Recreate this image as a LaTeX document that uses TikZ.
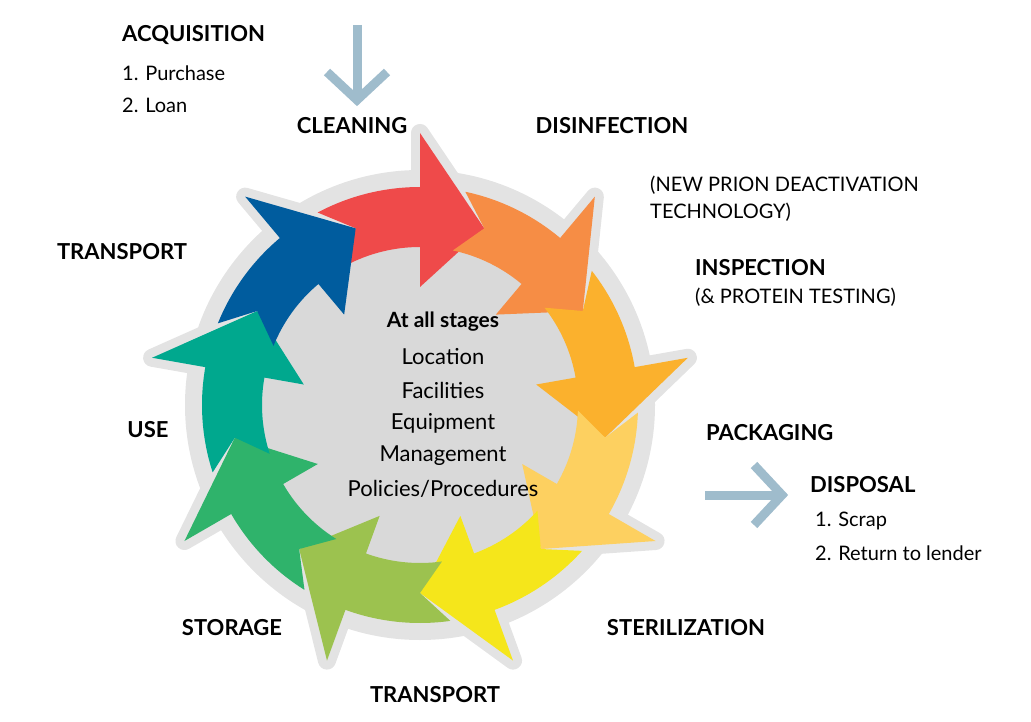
\documentclass[tikz,border=0pt]{standalone}
\usepackage{fontspec}
\setmainfont{Lato}
\begin{document}
\begin{tikzpicture}[x=1pt,y=1pt,
  lab/.style={font=\bfseries\fontsize{22}{26}\selectfont,inner sep=0pt},
  sub/.style={font=\fontsize{20}{24}\selectfont,inner sep=0pt,anchor=west},
  ctr/.style={font=\fontsize{22}{26}\selectfont,inner sep=0pt},
  bigarrow/.style={draw=arrowblue,line width=9pt}]
\definecolor{arrowblue}{HTML}{9FBCCC}
\useasboundingbox (0,0) rectangle (1031,-722);
\newcommand\arrpath[1]{(#1+48:218) arc[start angle=#1+48,end angle=#1+20,radius=218] -- (#1+20:272) -- (#1:188) -- (#1+20:118) -- (#1+20:158) arc[start angle=#1+20,end angle=#1+48,radius=158] -- (#1+40:188) -- cycle}
\begin{scope}[shift={(420,-405)}]
\fill[gray!22] (0,0) circle (235);
\foreach \t in {70,30,-10,-50,-90,-130,-170,150,110}
  \path[draw=gray!22,line width=18pt,line join=round] \arrpath{\t};
\fill[gray!30] (0,0) circle (160);
\foreach \t/\c in {70/EF4A4A,30/F68D45,-10/FBB12D,-50/FDD060,-90/F5E61B,-130/9CC24F,-170/2FB36B,150/00A88E,110/005C9E}
  {\definecolor{cc}{HTML}{\c}\path[fill=cc] \arrpath{\t};}
\end{scope}
% acquisition arrow
\coordinate (a1) at (357,-25); \coordinate (a2) at (357,-100);
\draw[bigarrow] (a1) -- (a2);
\draw[bigarrow,line join=miter] (327,-72) -- (a2) -- (387,-72);
\coordinate (d1) at (705,-495); \coordinate (d2) at (782,-495);
\draw[bigarrow] (d1) -- (d2);
\draw[bigarrow,line join=miter] (754,-465) -- (d2) -- (754,-525);
% labels
\node[lab,anchor=west] (acq) at (122,-35) {ACQUISITION};
\node[sub] (p1) at (122,-73) {1. Purchase};
\node[sub] (p2) at (122,-105) {2. Loan};
\node[lab] (clean) at (352,-126) {CLEANING};
\node[lab] (dis) at (612,-126) {DISINFECTION};
\node[sub] (np1) at (650,-185) {(NEW PRION DEACTIVATION};
\node[sub] (np2) at (650,-212) {TECHNOLOGY)};
\node[lab,anchor=west] (ins) at (695,-268) {INSPECTION};
\node[sub] (pt) at (695,-297) {(\& PROTEIN TESTING)};
\node[lab,anchor=west] (pack) at (706,-433) {PACKAGING};
\node[lab,anchor=west] (disp) at (810,-485) {DISPOSAL};
\node[sub] (s1) at (815,-521) {1. Scrap};
\node[sub] (s2) at (815,-553) {2. Return to lender};
\node[lab] (ster) at (686,-628) {STERILIZATION};
\node[lab] (tr2) at (435,-695) {TRANSPORT};
\node[lab] (stor) at (232,-628) {STORAGE};
\node[lab] (use) at (148,-430) {USE};
\node[lab] (tr1) at (122,-252) {TRANSPORT};
\node[ctr,font=\bfseries\fontsize{21}{24}\selectfont] (c0) at (443,-322) {At all stages};
\node[ctr] (c1) at (443,-357) {Location};
\node[ctr] (c2) at (443,-390) {Facilities};
\node[ctr] (c3) at (443,-423) {Equipment};
\node[ctr] (c4) at (443,-456) {Management};
\node[ctr] (c5) at (443,-489) {Policies/Procedures};
\end{tikzpicture}
\end{document}
